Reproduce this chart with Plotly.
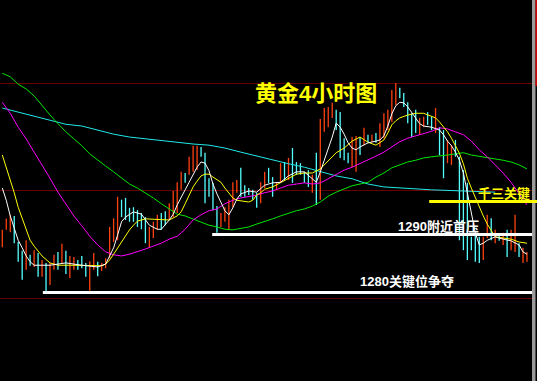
import plotly.graph_objects as go

# ---------------- data ----------------
highs = [1290.8, 1292.7, 1293.4, 1293.2, 1288.7, 1287.2, 1289.0, 1286.5, 1287.3, 1286.8,
         1285.6, 1285.1, 1285.1, 1286.5, 1287.0, 1288.4, 1287.2, 1286.3, 1286.1, 1285.6,
         1286.3, 1285.1, 1285.4, 1286.8, 1285.3, 1285.1, 1285.9, 1291.3, 1292.8, 1296.5,
         1296.0, 1296.3, 1294.6, 1294.7, 1294.2, 1293.7, 1293.0, 1291.3, 1292.2, 1293.4,
         1293.7, 1294.0, 1295.4, 1297.5, 1299.0, 1300.8, 1300.6, 1303.4, 1305.3, 1305.3,
         1305.1, 1304.1, 1299.7, 1298.9, 1294.9, 1293.7, 1294.7, 1296.0, 1299.0, 1299.4,
         1301.5, 1298.5, 1298.0, 1297.7, 1297.2, 1299.0, 1300.8, 1301.5, 1299.9, 1299.0,
         1302.3, 1302.5, 1303.2, 1304.9, 1302.5, 1302.3, 1300.8, 1301.1, 1300.3, 1304.1,
         1309.9, 1311.8, 1312.0, 1312.7, 1311.5, 1311.1, 1306.6, 1304.1, 1306.8, 1307.0,
         1306.8, 1308.4, 1307.2, 1307.2, 1307.5, 1309.2, 1310.9, 1311.5, 1314.9, 1316.1,
         1315.3, 1314.4, 1312.8, 1310.9, 1311.5, 1310.1, 1310.3, 1311.1, 1310.3, 1311.8,
         1308.5, 1308.0, 1306.3, 1305.4, 1306.3, 1303.4, 1301.1, 1298.9, 1289.6, 1289.9,
         1289.6, 1289.6, 1293.4, 1292.8, 1290.8, 1289.9, 1290.3, 1290.8, 1290.8, 1293.4,
         1288.5, 1287.7, 1287.0]

lows = [1287.8, 1290.8, 1290.4, 1288.5, 1285.3, 1282.2, 1283.9, 1284.6, 1284.4, 1282.7,
        1282.7, 1279.9, 1281.3, 1283.9, 1283.9, 1285.1, 1283.2, 1282.5, 1283.9, 1283.9,
        1284.2, 1282.7, 1280.3, 1283.9, 1282.8, 1283.7, 1284.2, 1285.9, 1288.7, 1289.0,
        1293.0, 1292.5, 1292.2, 1292.2, 1291.3, 1290.9, 1288.5, 1287.8, 1289.4, 1290.8,
        1290.8, 1291.6, 1292.5, 1293.0, 1293.7, 1297.7, 1298.9, 1300.3, 1300.8, 1301.1,
        1303.4, 1295.4, 1296.5, 1294.2, 1290.3, 1291.3, 1292.2, 1290.8, 1294.7, 1297.2,
        1296.5, 1296.5, 1296.8, 1296.0, 1294.6, 1295.4, 1298.0, 1298.9, 1296.5, 1297.7,
        1298.9, 1299.4, 1299.4, 1298.9, 1300.3, 1300.3, 1298.9, 1298.2, 1297.2, 1295.1,
        1296.0, 1307.7, 1308.5, 1310.1, 1308.0, 1303.2, 1302.8, 1302.3, 1301.6, 1300.8,
        1303.7, 1305.4, 1305.8, 1306.0, 1305.8, 1305.1, 1306.6, 1308.0, 1309.4, 1312.3,
        1313.5, 1312.0, 1309.2, 1306.8, 1307.5, 1307.2, 1308.5, 1308.9, 1308.0, 1307.5,
        1303.7, 1299.7, 1302.3, 1302.0, 1303.4, 1289.0, 1287.3, 1285.6, 1287.3, 1285.3,
        1285.1, 1285.6, 1289.4, 1289.0, 1288.5, 1288.9, 1288.2, 1286.1, 1287.3, 1287.0,
        1286.1, 1285.1, 1285.3]

opens = [1287.8, 1290.8, 1290.4, 1293.2, 1288.7, 1287.2, 1283.9, 1286.5, 1284.4, 1286.8,
         1282.7, 1285.1, 1281.3, 1283.9, 1287.0, 1285.1, 1287.2, 1282.5, 1283.9, 1285.6,
         1286.3, 1285.1, 1280.3, 1283.9, 1285.3, 1283.7, 1284.2, 1285.9, 1288.7, 1289.0,
         1296.0, 1296.3, 1294.6, 1294.7, 1294.2, 1293.7, 1293.0, 1287.8, 1289.4, 1290.8,
         1293.7, 1294.0, 1292.5, 1293.0, 1293.7, 1297.7, 1300.6, 1300.3, 1300.8, 1301.1,
         1305.1, 1304.1, 1299.7, 1298.9, 1294.9, 1291.3, 1292.2, 1290.8, 1294.7, 1297.2,
         1301.5, 1298.5, 1298.0, 1297.7, 1297.2, 1295.4, 1298.0, 1301.5, 1299.9, 1297.7,
         1298.9, 1302.5, 1299.4, 1304.9, 1302.5, 1302.3, 1300.8, 1301.1, 1297.2, 1304.1,
         1296.0, 1307.7, 1308.5, 1310.1, 1311.5, 1311.1, 1306.6, 1304.1, 1301.6, 1300.8,
         1306.8, 1305.4, 1307.2, 1306.0, 1307.5, 1305.1, 1306.6, 1308.0, 1309.4, 1312.3,
         1315.3, 1314.4, 1312.8, 1310.9, 1311.5, 1307.2, 1308.5, 1311.1, 1310.3, 1307.5,
         1308.5, 1308.0, 1302.3, 1302.0, 1306.3, 1303.4, 1301.1, 1298.9, 1289.6, 1289.9,
         1289.6, 1285.6, 1289.4, 1292.8, 1288.5, 1289.9, 1288.2, 1290.8, 1287.3, 1287.0,
         1288.5, 1285.1, 1285.3]

closes = [1290.8, 1292.7, 1293.4, 1288.5, 1285.3, 1282.2, 1289.0, 1284.6, 1287.3, 1282.7,
          1285.6, 1279.9, 1285.1, 1286.5, 1283.9, 1288.4, 1283.2, 1286.3, 1286.1, 1283.9,
          1284.2, 1282.7, 1285.4, 1286.8, 1282.8, 1285.1, 1285.9, 1291.3, 1292.8, 1296.5,
          1293.0, 1292.5, 1292.2, 1292.2, 1291.3, 1290.9, 1288.5, 1291.3, 1292.2, 1293.4,
          1290.8, 1291.6, 1295.4, 1297.5, 1299.0, 1300.8, 1298.9, 1303.4, 1305.3, 1305.3,
          1303.4, 1295.4, 1296.5, 1294.2, 1290.3, 1293.7, 1294.7, 1296.0, 1299.0, 1299.4,
          1296.5, 1296.5, 1296.8, 1296.0, 1294.6, 1299.0, 1300.8, 1298.9, 1296.5, 1299.0,
          1302.3, 1299.4, 1303.2, 1298.9, 1300.3, 1300.3, 1298.9, 1298.2, 1300.3, 1295.1,
          1309.9, 1311.8, 1312.0, 1312.7, 1308.0, 1303.2, 1302.8, 1302.3, 1306.8, 1307.0,
          1303.7, 1308.4, 1305.8, 1307.2, 1305.8, 1309.2, 1310.9, 1311.5, 1314.9, 1316.1,
          1313.5, 1312.0, 1309.2, 1306.8, 1307.5, 1310.1, 1310.3, 1308.9, 1308.0, 1311.8,
          1303.7, 1299.7, 1306.3, 1305.4, 1303.4, 1289.0, 1287.3, 1285.6, 1287.3, 1285.3,
          1285.1, 1289.6, 1293.4, 1289.0, 1290.8, 1288.9, 1290.3, 1286.1, 1290.8, 1293.4,
          1286.1, 1287.7, 1287.0]

# moving-average lines: (candle index, value)
ma_white = [(0, 1298.0), (1, 1295.9), (2, 1293.2), (3, 1290.9), (4, 1289.0), (5, 1287.7),
            (6, 1286.3), (7, 1285.3), (8, 1284.7), (12, 1284.7), (16, 1285.1), (20, 1284.7),
            (24, 1284.4), (26, 1284.9), (27, 1286.3), (28, 1287.7), (29, 1289.9), (30, 1292.2),
            (31, 1293.0), (33, 1293.9), (35, 1293.5), (37, 1291.6), (39, 1290.9), (40, 1290.9),
            (42, 1292.5), (43, 1293.5), (44, 1295.1), (45, 1296.3), (46, 1297.7), (47, 1299.0),
            (48, 1300.4), (49, 1301.6), (50, 1302.5), (51, 1302.3), (52, 1301.0), (53, 1298.7),
            (54, 1297.0), (55, 1295.4), (56, 1294.1), (57, 1293.4), (58, 1294.6), (59, 1296.1),
            (60, 1297.0), (62, 1297.5), (64, 1297.3), (66, 1298.5), (68, 1298.9), (70, 1299.0),
            (72, 1300.1), (74, 1300.8), (76, 1300.8), (78, 1299.6), (79, 1299.0), (80, 1300.8),
            (81, 1302.8), (82, 1304.9), (83, 1306.8), (84, 1309.2), (85, 1308.5), (86, 1307.3),
            (87, 1305.8), (88, 1304.9), (89, 1304.6), (90, 1305.1), (92, 1305.8), (94, 1306.1),
            (95, 1306.3), (96, 1307.0), (97, 1308.7), (98, 1310.8), (99, 1312.2), (100, 1312.8),
            (101, 1312.7), (102, 1312.0), (103, 1311.1), (104, 1310.1), (105, 1309.1),
            (106, 1308.7), (108, 1308.5), (110, 1308.0), (111, 1307.2), (112, 1306.1),
            (113, 1305.3), (114, 1304.2), (115, 1302.8), (116, 1300.6), (117, 1297.2),
            (118, 1293.5), (119, 1290.3), (120, 1288.2), (121, 1288.5), (122, 1289.0),
            (124, 1289.6), (126, 1289.2), (128, 1288.9), (130, 1288.2), (131, 1287.0),
            (132, 1286.6)]

ma_yellow = [(0, 1303.7), (1, 1301.6), (2, 1299.2), (3, 1297.2), (4, 1294.7), (5, 1292.7),
             (6, 1290.8), (7, 1289.0), (8, 1288.0), (9, 1287.2), (10, 1286.3), (12, 1285.1),
             (14, 1284.7), (18, 1284.7), (22, 1284.7), (25, 1284.6), (26, 1284.9), (27, 1285.6),
             (28, 1286.6), (29, 1287.7), (30, 1288.7), (31, 1289.9), (32, 1290.8), (33, 1291.6),
             (34, 1292.3), (36, 1292.7), (40, 1292.5), (42, 1292.5), (44, 1293.2), (45, 1293.9),
             (46, 1295.3), (47, 1296.8), (48, 1298.2), (49, 1299.2), (50, 1300.1), (51, 1300.4),
             (52, 1300.4), (53, 1299.9), (54, 1299.4), (55, 1299.0), (56, 1298.0), (57, 1297.2),
             (58, 1296.3), (59, 1295.9), (60, 1295.8), (62, 1295.6), (63, 1295.9), (64, 1296.8),
             (65, 1297.2), (66, 1297.8), (68, 1298.2), (70, 1298.9), (72, 1299.7), (74, 1300.4),
             (76, 1300.6), (78, 1300.6), (80, 1301.3), (82, 1302.7), (84, 1304.1), (86, 1304.9),
             (88, 1306.1), (90, 1306.8), (91, 1306.3), (92, 1305.9), (94, 1305.4), (95, 1305.8),
             (96, 1306.3), (97, 1307.5), (98, 1308.9), (99, 1309.6), (100, 1310.1),
             (102, 1310.6), (104, 1310.9), (106, 1310.9), (108, 1310.4), (109, 1310.1),
             (110, 1309.4), (112, 1307.7), (113, 1306.6), (114, 1305.4), (115, 1304.0),
             (116, 1302.2), (117, 1299.7), (118, 1298.0), (119, 1296.3), (120, 1294.6),
             (121, 1293.2), (122, 1291.8), (123, 1290.6), (124, 1289.6), (126, 1289.4),
             (128, 1289.2), (130, 1288.7), (132, 1288.5)]

ma_magenta = [(0, 1312.8), (2, 1310.9), (4, 1308.5), (6, 1306.5), (8, 1304.2), (10, 1302.0),
              (12, 1299.7), (14, 1297.3), (16, 1295.3), (18, 1293.2), (20, 1291.5), (22, 1289.7),
              (24, 1288.2), (26, 1287.0), (28, 1286.5), (30, 1286.3), (32, 1286.6), (34, 1287.0),
              (36, 1287.5), (38, 1288.0), (40, 1288.5), (42, 1289.2), (44, 1289.7), (45, 1290.3),
              (46, 1290.9), (48, 1292.5), (50, 1293.4), (52, 1294.1), (54, 1294.4), (56, 1295.3),
              (58, 1295.9), (60, 1296.3), (62, 1296.5), (64, 1296.8), (66, 1297.2), (68, 1297.5),
              (70, 1298.0), (72, 1298.5), (74, 1298.7), (76, 1298.9), (78, 1298.7), (80, 1298.9),
              (82, 1299.6), (84, 1300.4), (86, 1301.1), (88, 1301.6), (90, 1302.2), (92, 1302.8),
              (94, 1303.5), (96, 1304.2), (98, 1305.1), (100, 1306.0), (102, 1306.6),
              (104, 1307.0), (106, 1307.3), (108, 1307.8), (110, 1308.4), (112, 1308.2),
              (114, 1307.7), (116, 1307.2), (118, 1306.1), (120, 1304.6), (122, 1303.4),
              (124, 1302.0), (126, 1300.6), (128, 1299.0), (130, 1297.0), (131, 1295.9),
              (132, 1295.1)]

ma_green = [(0, 1317.8), (2, 1317.2), (4, 1315.9), (6, 1315.1), (8, 1313.9), (10, 1312.2),
            (12, 1310.6), (14, 1309.1), (16, 1307.7), (18, 1306.5), (20, 1305.3), (22, 1303.9),
            (24, 1302.8), (26, 1301.8), (28, 1300.8), (30, 1299.7), (32, 1298.7), (34, 1298.0),
            (36, 1297.2), (38, 1296.3), (40, 1295.3), (42, 1294.4), (44, 1293.5), (46, 1293.2),
            (48, 1292.7), (50, 1292.2), (52, 1291.6), (54, 1291.3), (56, 1290.9), (58, 1290.8),
            (60, 1291.1), (62, 1291.3), (64, 1291.8), (66, 1292.2), (68, 1292.7), (70, 1293.2),
            (72, 1293.7), (74, 1294.1), (76, 1294.4), (78, 1294.9), (80, 1295.6), (82, 1296.6),
            (84, 1297.3), (86, 1297.8), (88, 1298.4), (90, 1298.7), (92, 1299.0), (94, 1299.9),
            (96, 1300.6), (98, 1301.5), (100, 1302.0), (102, 1302.5), (104, 1302.8),
            (106, 1303.2), (108, 1303.4), (110, 1303.5), (112, 1303.7), (114, 1303.9),
            (116, 1304.1), (118, 1303.7), (120, 1303.5), (122, 1303.2), (124, 1303.0),
            (126, 1302.8), (128, 1302.5), (130, 1302.0), (132, 1301.3)]

ma_cyan = [(0, 1311.8), (4, 1311.1), (8, 1310.4), (12, 1309.6), (16, 1309.0), (20, 1308.7),
           (24, 1308.0), (28, 1307.3), (32, 1306.8), (36, 1306.5), (40, 1306.1), (44, 1305.8),
           (48, 1305.6), (52, 1305.4), (56, 1304.9), (60, 1304.2), (64, 1303.5), (68, 1302.8),
           (72, 1302.2), (76, 1301.6), (80, 1300.8), (84, 1300.1), (88, 1299.6), (90, 1299.2),
           (92, 1298.7), (96, 1298.2), (100, 1298.0), (108, 1297.7), (116, 1297.5),
           (124, 1297.3)]

# hand-drawn key levels: price, first candle index, last candle index
level_prices = [1295.7, 1290.0, 1280.0]
level_from = [107.4, 52.8, 10.2]
level_to = [134.6, 133.3, 133.3]
level_colors = ["#ffff00", "#ffffff", "#ffffff"]

grid_prices = [1278.9, 1297.5, 1316.1]

title_text = "黄金4小时图"
label_texts = ["千三关键", "1290附近首压", "1280关键位争夺"]

# ---------------- figure ----------------
RED = "#ff4010"
CYAN = "#55ffff"
idx = list(range(len(highs)))

fig = go.Figure()
fig.add_trace(go.Ohlc(
    x=idx, open=opens, high=highs, low=lows, close=closes,
    increasing=dict(line=dict(color=RED, width=1.3)),
    decreasing=dict(line=dict(color=CYAN, width=1.3)),
    tickwidth=0, hoverinfo="skip", showlegend=False))

for pts, col in [(ma_cyan, "#22e8e8"), (ma_green, "#00e600"), (ma_magenta, "#ff00ff"),
                 (ma_yellow, "#ffff00"), (ma_white, "#ffffff")]:
    fig.add_trace(go.Scatter(
        x=[p[0] for p in pts], y=[p[1] for p in pts], mode="lines",
        line=dict(color=col, width=1), hoverinfo="skip", showlegend=False))

# right edge decorations
fig.add_shape(type="rect", xref="paper", yref="paper", x0=535.5 / 537, x1=1, y0=0, y1=1,
              fillcolor="#000000", line=dict(width=0), layer="above")
fig.add_shape(type="rect", xref="paper", yref="paper", x0=532 / 537, x1=535.5 / 537, y0=0, y1=1,
              fillcolor="#9a9a9a", line=dict(width=0), layer="above")
fig.add_shape(type="rect", xref="paper", yref="paper", x0=535.5 / 537, x1=1, y0=1 - 86 / 381, y1=1,
              fillcolor="#d00000", line=dict(width=0), layer="above")

for p, a, b, c in zip(level_prices, level_from, level_to, level_colors):
    fig.add_shape(type="line", xref="x", yref="y", x0=a, x1=b, y0=p, y1=p,
                  line=dict(color=c, width=3), layer="above")

FONT = "Liberation Sans, Arial, Noto Sans CJK SC, sans-serif"
fig.add_annotation(text="<b>" + title_text + "</b>", xref="paper", yref="paper",
                   x=316 / 537, y=1 - 93 / 381, xanchor="center", yanchor="middle",
                   showarrow=False, font=dict(family=FONT, size=22, color="#ffff00"))
label_pos = [(503.5, 193.5), (438, 226.5), (406.5, 281)]
label_cols = ["#ffff00", "#ffffff", "#ffffff"]
for t, (px, py), c in zip(label_texts, label_pos, label_cols):
    fig.add_annotation(text="<b>" + t + "</b>", xref="paper", yref="paper",
                       x=px / 537, y=1 - py / 381, xanchor="center", yanchor="middle",
                       showarrow=False, font=dict(family=FONT, size=13, color=c))

fig.update_layout(
    width=537, height=381, margin=dict(l=0, r=0, t=0, b=0),
    paper_bgcolor="#000000", plot_bgcolor="#000000", showlegend=False,
    xaxis=dict(range=[-0.58, 134.52], visible=False, rangeslider=dict(visible=False),
               fixedrange=True),
    yaxis=dict(range=[1264.74, 1330.43], showticklabels=False, ticks="",
               showline=False, zeroline=False, showgrid=True, gridcolor="#640000",
               gridwidth=1, tickvals=grid_prices, fixedrange=True),
)

page_css = ("document.body.style.margin='0px';document.body.style.padding='0px';"
            "document.body.style.overflow='hidden';document.body.style.background='#000';")
fig.write_html("out.html", config={"displayModeBar": False}, post_script=page_css)
